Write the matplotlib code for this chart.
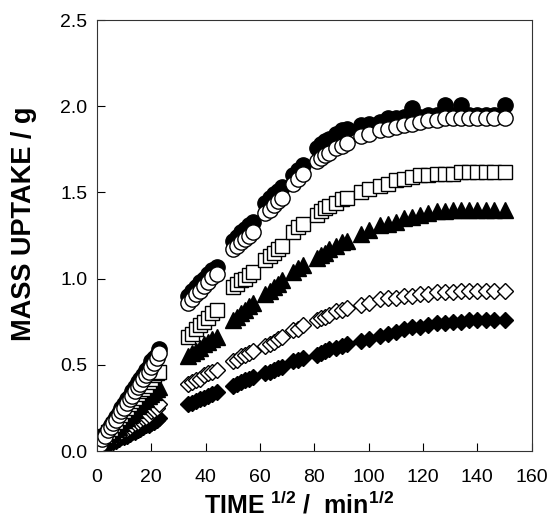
import numpy as np
import matplotlib
matplotlib.use("Agg")
import matplotlib.pyplot as plt

plt.rcParams['font.family'] = ['Liberation Sans', 'DejaVu Sans']
plt.rcParams['mathtext.fontset'] = 'custom'
plt.rcParams['mathtext.rm'] = 'Liberation Sans:bold'
plt.rcParams['mathtext.it'] = 'Liberation Sans:bold'
plt.rcParams['mathtext.bf'] = 'Liberation Sans:bold'

# sqrt(time) sampling shared by all runs
t = [0, 1, 2, 3, 4, 5, 6, 7, 8, 9, 10, 11, 12, 13, 14, 15, 16, 17, 18, 19, 20, 21, 22, 23,
     33.5, 35, 36.5, 38, 39.5, 41, 42.5, 44,
     50, 51.5, 53, 54.5, 56, 57.5,
     62, 63.5, 65, 66.5, 68,
     72, 74, 76,
     81, 82.5, 84, 85.5,
     88, 90, 92,
     97, 100, 104, 107, 110, 113, 116, 119, 122, 125, 128, 131, 134, 137, 140, 143, 146, 150]

filled_circ = [0, 0.04, 0.07, 0.10, 0.12, 0.15, 0.17, 0.20, 0.22, 0.25, 0.27, 0.30, 0.32, 0.35, 0.37, 0.40,
               0.42, 0.44, 0.47, 0.49, 0.52, 0.54, 0.56, 0.59,
               0.90, 0.93, 0.95, 0.98, 1.00, 1.03, 1.05, 1.07,
               1.22, 1.24, 1.27, 1.29, 1.31, 1.33,
               1.44, 1.47, 1.49, 1.51, 1.53,
               1.60, 1.63, 1.66,
               1.76, 1.78, 1.80, 1.81,
               1.84, 1.86, 1.87,
               1.89, 1.90, 1.91, 1.93, 1.93, 1.94, 1.99, 1.94, 1.95, 1.95, 2.01, 1.95, 2.01, 1.95, 1.95,
               1.95, 1.95, 2.01]
open_circ = [0, 0.04, 0.07, 0.09, 0.12, 0.14, 0.16, 0.18, 0.21, 0.23, 0.25, 0.28, 0.30, 0.32, 0.35, 0.37,
             0.39, 0.42, 0.44, 0.46, 0.49, 0.51, 0.54, 0.57,
             0.86, 0.88, 0.91, 0.93, 0.96, 0.98, 1.01, 1.03,
             1.17, 1.19, 1.21, 1.23, 1.25, 1.27,
             1.38, 1.40, 1.43, 1.45, 1.47,
             1.55, 1.58, 1.61,
             1.68, 1.70, 1.72, 1.73,
             1.76, 1.77, 1.79,
             1.83, 1.84, 1.86, 1.87, 1.88, 1.89, 1.90, 1.91, 1.92, 1.92, 1.93, 1.93, 1.93, 1.93, 1.93,
             1.93, 1.93, 1.93]
open_sq = [0, 0.05, 0.07, 0.09, 0.11, 0.13, 0.15, 0.17, 0.19, 0.21, 0.23, 0.25, 0.27, 0.29, 0.31, 0.33,
           0.35, 0.36, 0.38, 0.40, 0.42, 0.44, 0.45, 0.46,
           0.66, 0.68, 0.71, 0.73, 0.75, 0.77, 0.80, 0.82,
           0.95, 0.97, 0.99, 1.00, 1.02, 1.04,
           1.11, 1.13, 1.15, 1.17, 1.19,
           1.27, 1.30, 1.32,
           1.37, 1.39, 1.41, 1.42,
           1.44, 1.46, 1.47,
           1.50, 1.52, 1.54, 1.55, 1.57, 1.58, 1.59, 1.60, 1.60, 1.61, 1.61, 1.61, 1.62, 1.62, 1.62,
           1.62, 1.62, 1.62]
filled_tri = [0, 0.03, 0.05, 0.06, 0.08, 0.10, 0.11, 0.13, 0.14, 0.16, 0.18, 0.19, 0.21, 0.22, 0.24, 0.26,
              0.27, 0.29, 0.30, 0.32, 0.33, 0.34, 0.36, 0.37,
              0.55, 0.57, 0.58, 0.60, 0.62, 0.63, 0.65, 0.66,
              0.76, 0.78, 0.80, 0.82, 0.84, 0.86,
              0.91, 0.93, 0.95, 0.97, 0.99,
              1.04, 1.06, 1.08,
              1.12, 1.14, 1.15, 1.17,
              1.19, 1.21, 1.22,
              1.26, 1.28, 1.31, 1.32, 1.33, 1.35, 1.36, 1.37, 1.38, 1.39, 1.39, 1.40, 1.40, 1.40, 1.40,
              1.40, 1.40, 1.40]
open_dia = [0, 0.02, 0.03, 0.05, 0.06, 0.07, 0.08, 0.09, 0.10, 0.11, 0.12, 0.13, 0.14, 0.15, 0.16, 0.17,
            0.18, 0.19, 0.20, 0.21, 0.23, 0.24, 0.25, 0.27,
            0.39, 0.40, 0.41, 0.42, 0.44, 0.45, 0.46, 0.47,
            0.52, 0.53, 0.55, 0.56, 0.57, 0.58,
            0.61, 0.62, 0.63, 0.65, 0.66,
            0.70, 0.71, 0.73,
            0.76, 0.77, 0.78, 0.79,
            0.81, 0.82, 0.83,
            0.85, 0.86, 0.88, 0.89, 0.89, 0.90, 0.90, 0.91, 0.91, 0.92, 0.92, 0.92, 0.93, 0.93, 0.93,
            0.93, 0.93, 0.93]
filled_dia = [0, 0.01, 0.02, 0.03, 0.04, 0.05, 0.05, 0.06, 0.07, 0.08, 0.08, 0.09, 0.10, 0.11, 0.11, 0.12,
              0.13, 0.14, 0.15, 0.15, 0.16, 0.17, 0.18, 0.19,
              0.27, 0.28, 0.29, 0.30, 0.31, 0.32, 0.33, 0.34,
              0.38, 0.39, 0.40, 0.41, 0.42, 0.43,
              0.45, 0.46, 0.47, 0.48, 0.49,
              0.52, 0.53, 0.54,
              0.56, 0.57, 0.58, 0.59,
              0.60, 0.61, 0.62,
              0.64, 0.65, 0.67, 0.68, 0.69, 0.71, 0.72, 0.72, 0.73, 0.74, 0.74, 0.75, 0.75, 0.76, 0.76,
              0.76, 0.76, 0.76]

fig = plt.figure(figsize=(5.51, 5.30), dpi=100)
ax = fig.add_axes([0.176, 0.149, 0.789, 0.813])

mew = 1.0
ax.plot(t, filled_dia, 'D', ms=8.6, mfc='black', mec='black', mew=mew, ls='none')
ax.plot(t, open_dia, 'D', ms=8.6, mfc='white', mec='black', mew=mew, ls='none')
ax.plot(t, filled_tri, '^', ms=11, mfc='black', mec='black', mew=mew, ls='none')
ax.plot(t, open_sq, 's', ms=10, mfc='white', mec='black', mew=mew, ls='none')
ax.plot(t, filled_circ, 'o', ms=11, mfc='black', mec='black', mew=mew, ls='none')
ax.plot(t, open_circ, 'o', ms=11, mfc='white', mec='black', mew=mew, ls='none')

ax.set_xlim(0, 160)
ax.set_ylim(0, 2.5)
ax.set_xticks(np.arange(0, 161, 20))
ax.set_yticks(np.arange(0, 2.51, 0.5))
ax.yaxis.set_major_formatter(matplotlib.ticker.FormatStrFormatter('%.1f'))
ax.tick_params(direction='in', length=6, width=0.8, labelsize=14, pad=7)
ax.tick_params(axis='x', pad=13)
for s in ax.spines.values():
    s.set_linewidth(0.8)
    s.set_color('#333333')

fig.text(299 / 551, 1 - 505 / 530, r'TIME $^{1/2}$ /  min$^{1/2}$', ha='center', va='center',
         fontsize=18, fontweight='bold')
fig.text(24 / 551, 1 - 224 / 530, 'MASS UPTAKE / g', ha='center', va='center', rotation=90,
         fontsize=19.5, fontweight='bold')

fig.savefig('out.png', dpi=100)
